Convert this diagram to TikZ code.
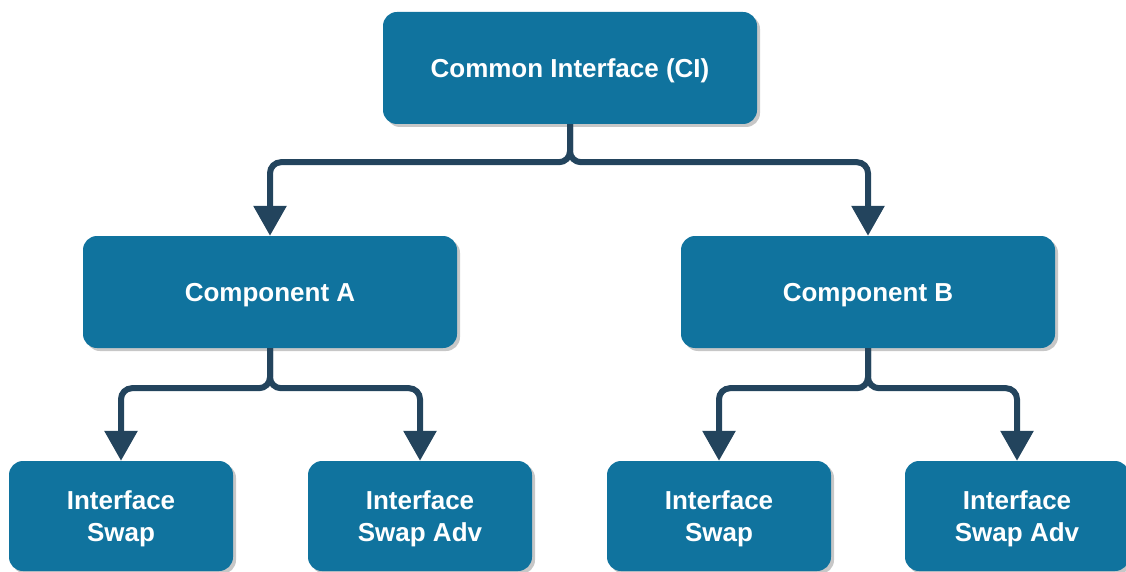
\documentclass[tikz,border=0pt]{standalone}
\usepackage{fontspec}
\setmainfont{Liberation Sans}
\usetikzlibrary{arrows.meta,shadows}
\definecolor{boxblue}{HTML}{10739E}
\definecolor{linknavy}{HTML}{23445D}
\tikzset{
  box/.style={rounded corners=14pt, fill=boxblue, text=white, align=center,
    font=\fontsize{26pt}{32pt}\selectfont\bfseries, text depth=0pt,
    drop shadow={shadow xshift=3pt, shadow yshift=-3pt, fill=black, opacity=.22}},
  bigbox/.style={box, minimum width=374pt, minimum height=112pt},
  smallbox/.style={box, minimum width=224pt, minimum height=110pt},
  link/.style={line width=6pt, linknavy, rounded corners=11pt,
    -{Triangle[width=32pt,length=30pt]}}
}
\begin{document}
\begin{tikzpicture}[x=1pt,y=-1pt]
    \useasboundingbox (0,0) rectangle (1126,572);
    % top level
    \node [bigbox] (ci) at (570,68) {Common Interface (CI)};
    % components
    \node [bigbox] (compA) at (270,292) {Component A};
    \node [bigbox] (compB) at (868,292) {Component B};
    % interface nodes
    \node [smallbox] (swapA)    at (121,516) {Interface\\Swap};
    \node [smallbox] (swapAdvA) at (420,516) {Interface\\Swap Adv};
    \node [smallbox] (swapB)    at (719,516) {Interface\\Swap};
    \node [smallbox] (swapAdvB) at (1017,516) {Interface\\Swap Adv};
    % connectors
    \draw [link] (ci.south) -- ++(0,38) -| (compA.north);
    \draw [link] (ci.south) -- ++(0,38) -| (compB.north);
    \draw [link] (compA.south) -- ++(0,40) -| (swapA.north);
    \draw [link] (compA.south) -- ++(0,40) -| (swapAdvA.north);
    \draw [link] (compB.south) -- ++(0,40) -| (swapB.north);
    \draw [link] (compB.south) -- ++(0,40) -| (swapAdvB.north);
\end{tikzpicture}
\end{document}
